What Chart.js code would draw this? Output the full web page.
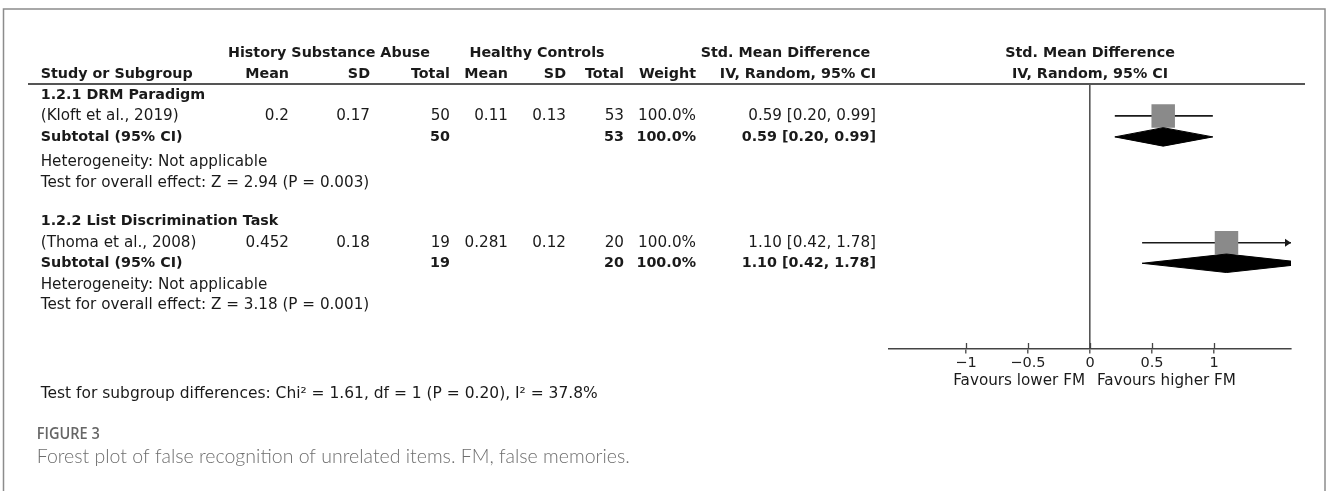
<!DOCTYPE html>
<html>
<head>
<meta charset="utf-8">
<script src="https://cdn.jsdelivr.net/npm/chart.js@4.4.1/dist/chart.umd.min.js"></script>
<style>
  html, body { margin: 0; padding: 0; background: #fff; }
  canvas { display: block; }
</style>
</head>
<body>
<canvas id="forest" width="1328" height="491"></canvas>
<script>
// subgroups and their single study
const subgroups = ['1.2.1 DRM Paradigm', '1.2.2 List Discrimination Task'];
const studies = ['(Kloft et al., 2019)', '(Thoma et al., 2008)'];

// History Substance Abuse
const expMean = ['0.2', '0.452'];
const expSD = ['0.17', '0.18'];
const expTotal = [50, 19];

// Healthy Controls
const ctlMean = ['0.11', '0.281'];
const ctlSD = ['0.13', '0.12'];
const ctlTotal = [53, 20];

// Std. Mean Difference, IV, Random, 95% CI
const weights = [100, 100];
const smd = [0.59, 1.10];
const ciLow = [0.20, 0.42];
const ciHigh = [0.99, 1.78];

// subtotals
const subSmd = [0.59, 1.10];
const subLow = [0.20, 0.42];
const subHigh = [0.99, 1.78];
const zValues = ['2.94', '3.18'];
const pValues = ['0.003', '0.001'];

const tickValues = [-1, -0.5, 0, 0.5, 1];
const tickLabels = ['\u22121', '\u22120.5', '0', '0.5', '1'];

// row positions (in row units of the y scale) for each subgroup block
const rows = [
  { title: 0.52, study: 1.52, subtotal: 2.52, het: 3.71, test: 4.71 },
  { title: 6.56, study: 7.56, subtotal: 8.54, het: 9.57, test: 10.52 }
];
const headRow1 = -1.45, headRow2 = -0.46;

const REG = '15.2px "DejaVu Sans"';
const BOLD = 'bold 14.3px "DejaVu Sans"';
const INK = '#1a1a1a';

// table columns (right edges) on the left side
const col = { name: 40.7, eMean: 289, eSD: 370, eTot: 450, cMean: 508, cSD: 566, cTot: 624, weight: 696, ci: 876 };

const fmtCI = (m, lo, hi) => m.toFixed(2) + ' [' + lo.toFixed(2) + ', ' + hi.toFixed(2) + ']';

const datasets = [];
studies.forEach((s, i) => {
  const r = rows[i];
  datasets.push({
    data: [{ x: ciLow[i], y: r.study }, { x: ciHigh[i], y: r.study }],
    borderColor: INK, borderWidth: 1.6, pointRadius: 0, order: 3
  });
  datasets.push({
    data: [{ x: smd[i], y: r.study }],
    showLine: false, pointStyle: 'rect',
    pointRadius: 16.6 * Math.sqrt(weights[i] / 100),
    backgroundColor: '#8a8a8a', borderWidth: 0, order: 2
  });
  const h = 0.44;
  datasets.push({
    data: [
      { x: subLow[i], y: r.subtotal }, { x: subSmd[i], y: r.subtotal - h },
      { x: subHigh[i], y: r.subtotal }, { x: subSmd[i], y: r.subtotal + h },
      { x: subLow[i], y: r.subtotal }
    ],
    fill: 'shape', backgroundColor: '#000', borderColor: '#000', borderWidth: 1,
    pointRadius: 0, order: 1
  });
});

function txt(ctx, s, px, py, align, font, color, maxW) {
  ctx.font = font;
  ctx.fillStyle = color || INK;
  ctx.textAlign = align;
  ctx.textBaseline = 'middle';
  if (maxW) ctx.fillText(s, px, py, maxW); else ctx.fillText(s, px, py);
}

const tablePlugin = {
  id: 'forestTable',
  afterDraw(chart) {
    const { ctx, chartArea, scales: { x, y } } = chart;
    const mid = (chartArea.left + chartArea.right) / 2;
    ctx.save();

    // frame
    ctx.strokeStyle = '#8c8c8c';
    ctx.lineWidth = 1.5;
    ctx.strokeRect(3.5, 9, 1321.5, 520);

    // header rule
    ctx.strokeStyle = '#555';
    ctx.lineWidth = 1.8;
    ctx.beginPath();
    ctx.moveTo(28, chartArea.top);
    ctx.lineTo(1305, chartArea.top);
    ctx.stroke();

    // upper half of axis ticks
    ctx.strokeStyle = '#444';
    ctx.lineWidth = 1.3;
    x.ticks.forEach(t => {
      const px = Math.round(x.getPixelForValue(t.value)) + 0.5;
      ctx.beginPath();
      ctx.moveTo(px, chartArea.bottom - 5.5);
      ctx.lineTo(px, chartArea.bottom);
      ctx.stroke();
    });

    // arrows for clipped intervals
    ctx.fillStyle = INK;
    studies.forEach((s, i) => {
      if (ciHigh[i] > x.max) {
        const px = x.getPixelForValue(x.max), py = y.getPixelForValue(rows[i].study);
        ctx.beginPath();
        ctx.moveTo(px, py);
        ctx.lineTo(px - 6, py - 4);
        ctx.lineTo(px - 6, py + 4);
        ctx.closePath();
        ctx.fill();
      }
    });

    // headers
    const h1 = y.getPixelForValue(headRow1), h2 = y.getPixelForValue(headRow2);
    txt(ctx, 'History Substance Abuse', 329, h1, 'center', BOLD);
    txt(ctx, 'Healthy Controls', 537, h1, 'center', BOLD);
    txt(ctx, 'Std. Mean Difference', 785.5, h1, 'center', BOLD);
    txt(ctx, 'Std. Mean Difference', mid, h1, 'center', BOLD);
    txt(ctx, 'Study or Subgroup', col.name, h2, 'left', BOLD);
    txt(ctx, 'Mean', col.eMean, h2, 'right', BOLD);
    txt(ctx, 'SD', col.eSD, h2, 'right', BOLD);
    txt(ctx, 'Total', col.eTot, h2, 'right', BOLD);
    txt(ctx, 'Mean', col.cMean, h2, 'right', BOLD);
    txt(ctx, 'SD', col.cSD, h2, 'right', BOLD);
    txt(ctx, 'Total', col.cTot, h2, 'right', BOLD);
    txt(ctx, 'Weight', col.weight, h2, 'right', BOLD);
    txt(ctx, 'IV, Random, 95% CI', col.ci, h2, 'right', BOLD);
    txt(ctx, 'IV, Random, 95% CI', mid, h2, 'center', BOLD);

    // subgroup blocks
    subgroups.forEach((g, i) => {
      const r = rows[i];
      const yt = y.getPixelForValue(r.title), ys = y.getPixelForValue(r.study);
      const yb = y.getPixelForValue(r.subtotal), yh = y.getPixelForValue(r.het), yz = y.getPixelForValue(r.test);
      txt(ctx, g, col.name, yt, 'left', BOLD);

      txt(ctx, studies[i], col.name, ys, 'left', REG);
      txt(ctx, expMean[i], col.eMean, ys, 'right', REG);
      txt(ctx, expSD[i], col.eSD, ys, 'right', REG);
      txt(ctx, String(expTotal[i]), col.eTot, ys, 'right', REG);
      txt(ctx, ctlMean[i], col.cMean, ys, 'right', REG);
      txt(ctx, ctlSD[i], col.cSD, ys, 'right', REG);
      txt(ctx, String(ctlTotal[i]), col.cTot, ys, 'right', REG);
      txt(ctx, weights[i].toFixed(1) + '%', col.weight, ys, 'right', REG);
      txt(ctx, fmtCI(smd[i], ciLow[i], ciHigh[i]), col.ci, ys, 'right', REG);

      txt(ctx, 'Subtotal (95% CI)', col.name, yb, 'left', BOLD);
      txt(ctx, String(expTotal[i]), col.eTot, yb, 'right', BOLD);
      txt(ctx, String(ctlTotal[i]), col.cTot, yb, 'right', BOLD);
      txt(ctx, weights[i].toFixed(1) + '%', col.weight, yb, 'right', BOLD);
      txt(ctx, fmtCI(subSmd[i], subLow[i], subHigh[i]), col.ci, yb, 'right', BOLD);

      txt(ctx, 'Heterogeneity: Not applicable', col.name, yh, 'left', REG);
      txt(ctx, 'Test for overall effect: Z = ' + zValues[i] + ' (P = ' + pValues[i] + ')', col.name, yz, 'left', REG);
    });

    // favours labels
    const zx = x.getPixelForValue(0);
    txt(ctx, 'Favours lower FM', zx - 5, 380.7, 'right', REG);
    txt(ctx, 'Favours higher FM', zx + 7, 380.7, 'left', REG);

    // footer
    txt(ctx, 'Test for subgroup differences: Chi\u00b2 = 1.61, df = 1 (P = 0.20), I\u00b2 = 37.8%', col.name, 394, 'left', '15.6px "DejaVu Sans"', INK, 557);
    txt(ctx, 'FIGURE 3', 36.7, 435, 'left', '600 15.5px "Open Sans"', '#666', 63);
    txt(ctx, 'Forest plot of false recognition of unrelated items. FM, false memories.', 36.7, 456.7, 'left', '300 19.5px Lato', '#6e6e6e', 597);

    ctx.restore();
  }
};

new Chart(document.getElementById('forest'), {
  type: 'line',
  data: { datasets },
  options: {
    responsive: false,
    animation: false,
    events: [],
    layout: { padding: { left: 889, right: 37, top: 84, bottom: 0 } },
    plugins: { legend: { display: false }, tooltip: { enabled: false } },
    scales: {
      x: {
        type: 'linear', min: -1.62, max: 1.62,
        afterBuildTicks: s => { s.ticks = tickValues.map(v => ({ value: v })); },
        afterFit: s => { s.height = 142.5; },
        ticks: {
          callback: (v, i) => tickLabels[i],
          font: { family: 'DejaVu Sans', size: 14.5 }, color: '#222',
          padding: 1, maxRotation: 0, autoSkip: false
        },
        grid: {
          drawOnChartArea: true,
          color: c => (c.tick && c.tick.value === 0 ? '#555' : 'rgba(0,0,0,0)'),
          lineWidth: 1.6, tickLength: 5, tickColor: '#444', tickWidth: 1.3
        },
        border: { display: true, color: '#444', width: 1.6 }
      },
      y: { type: 'linear', reverse: true, min: 0, max: 12.6, display: false }
    }
  },
  plugins: [tablePlugin]
});
</script>
</body>
</html>
